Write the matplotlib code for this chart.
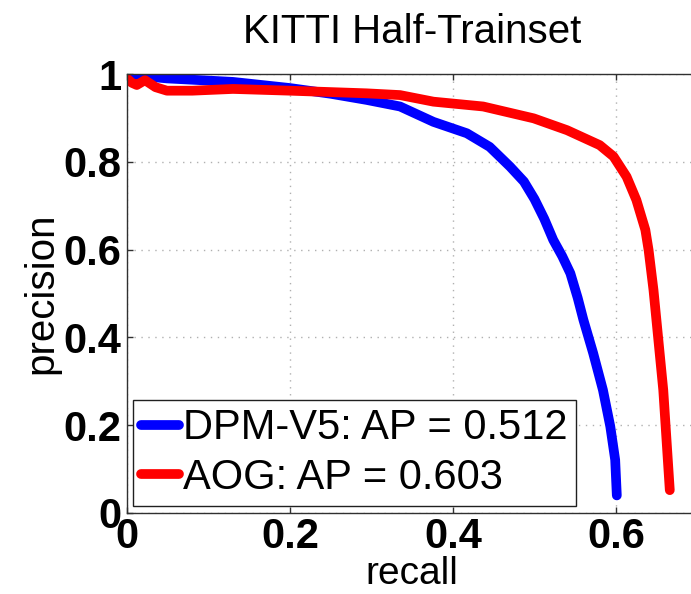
import matplotlib
matplotlib.use("Agg")
import matplotlib.pyplot as plt
from matplotlib.ticker import FormatStrFormatter, MultipleLocator

plt.rcParams["font.family"] = ["Liberation Sans", "DejaVu Sans"]

# precision / recall curves
dpm_recall = [0.0, 0.02, 0.049, 0.09, 0.13, 0.2, 0.25, 0.294, 0.335, 0.376, 0.417,
              0.445, 0.470, 0.487, 0.500, 0.512, 0.523, 0.534, 0.544, 0.553, 0.560,
              0.572, 0.584, 0.593, 0.599, 0.601]
dpm_precision = [0.998, 0.995, 0.99, 0.986, 0.982, 0.968, 0.955, 0.941, 0.926, 0.891, 0.865,
                 0.834, 0.789, 0.755, 0.715, 0.670, 0.622, 0.585, 0.546, 0.490, 0.440,
                 0.364, 0.280, 0.197, 0.121, 0.040]

aog_recall = [0.0, 0.006, 0.012, 0.022, 0.035, 0.049, 0.08, 0.13, 0.2, 0.294, 0.335, 0.376,
              0.437, 0.499, 0.540, 0.580, 0.597, 0.613, 0.625, 0.636, 0.640, 0.646, 0.652,
              0.658, 0.662, 0.666]
aog_precision = [0.99, 0.98, 0.975, 0.986, 0.97, 0.962, 0.962, 0.966, 0.962, 0.956, 0.952, 0.937,
                 0.926, 0.899, 0.872, 0.838, 0.812, 0.766, 0.713, 0.645, 0.599, 0.508, 0.394,
                 0.280, 0.166, 0.052]

labels = ["DPM-V5: AP = 0.512", "AOG: AP = 0.603"]
title = "KITTI Half-Trainset"

fig = plt.figure(figsize=(6.91, 5.94), dpi=100)
ax = fig.add_axes([0.1838, 0.1364, 0.8256, 0.739])

ax.plot(dpm_recall, dpm_precision, color="#0000ff", lw=7, solid_joinstyle="round",
        solid_capstyle="round", label=labels[0])
ax.plot(aog_recall, aog_precision, color="#ff0000", lw=7, solid_joinstyle="round",
        solid_capstyle="round", label=labels[1])

ax.set_xlim(0, 0.7)
ax.set_ylim(0, 1)
ax.xaxis.set_major_locator(MultipleLocator(0.2))
ax.yaxis.set_major_locator(MultipleLocator(0.2))
ax.xaxis.set_major_formatter(FormatStrFormatter("%g"))
ax.yaxis.set_major_formatter(FormatStrFormatter("%g"))
ax.grid(True, color="#b0b0b0", linestyle=(0, (1, 4)), lw=1)

for s in ax.spines.values():
    s.set_color("#303030")
    s.set_linewidth(1)

ax.tick_params(direction="in", length=4, width=1, color="#303030",
               labelsize=30, top=True, right=True)
ax.tick_params(axis="x", pad=3)
ax.tick_params(axis="y", pad=4)
for t in ax.get_xticklabels() + ax.get_yticklabels():
    t.set_fontweight("bold")

ax.set_xlabel("recall", fontsize=28)
ax.set_ylabel("precision", fontsize=29)
ax.xaxis.set_label_coords(0.5, -0.097)
ax.yaxis.set_label_coords(-0.116, 0.5)

fig.text(412 / 691, (594 - 43) / 594, title, fontsize=29, ha="center", va="baseline")

leg = ax.legend(loc="lower left", bbox_to_anchor=(0.0105, 0.016), borderaxespad=0,
                fontsize=30, handlelength=0.9, handletextpad=0.1, labelspacing=0.22,
                borderpad=0.2, fancybox=False, framealpha=1, edgecolor="#202020")
leg.get_frame().set_linewidth(1)

fig.savefig("out.png", dpi=100)
